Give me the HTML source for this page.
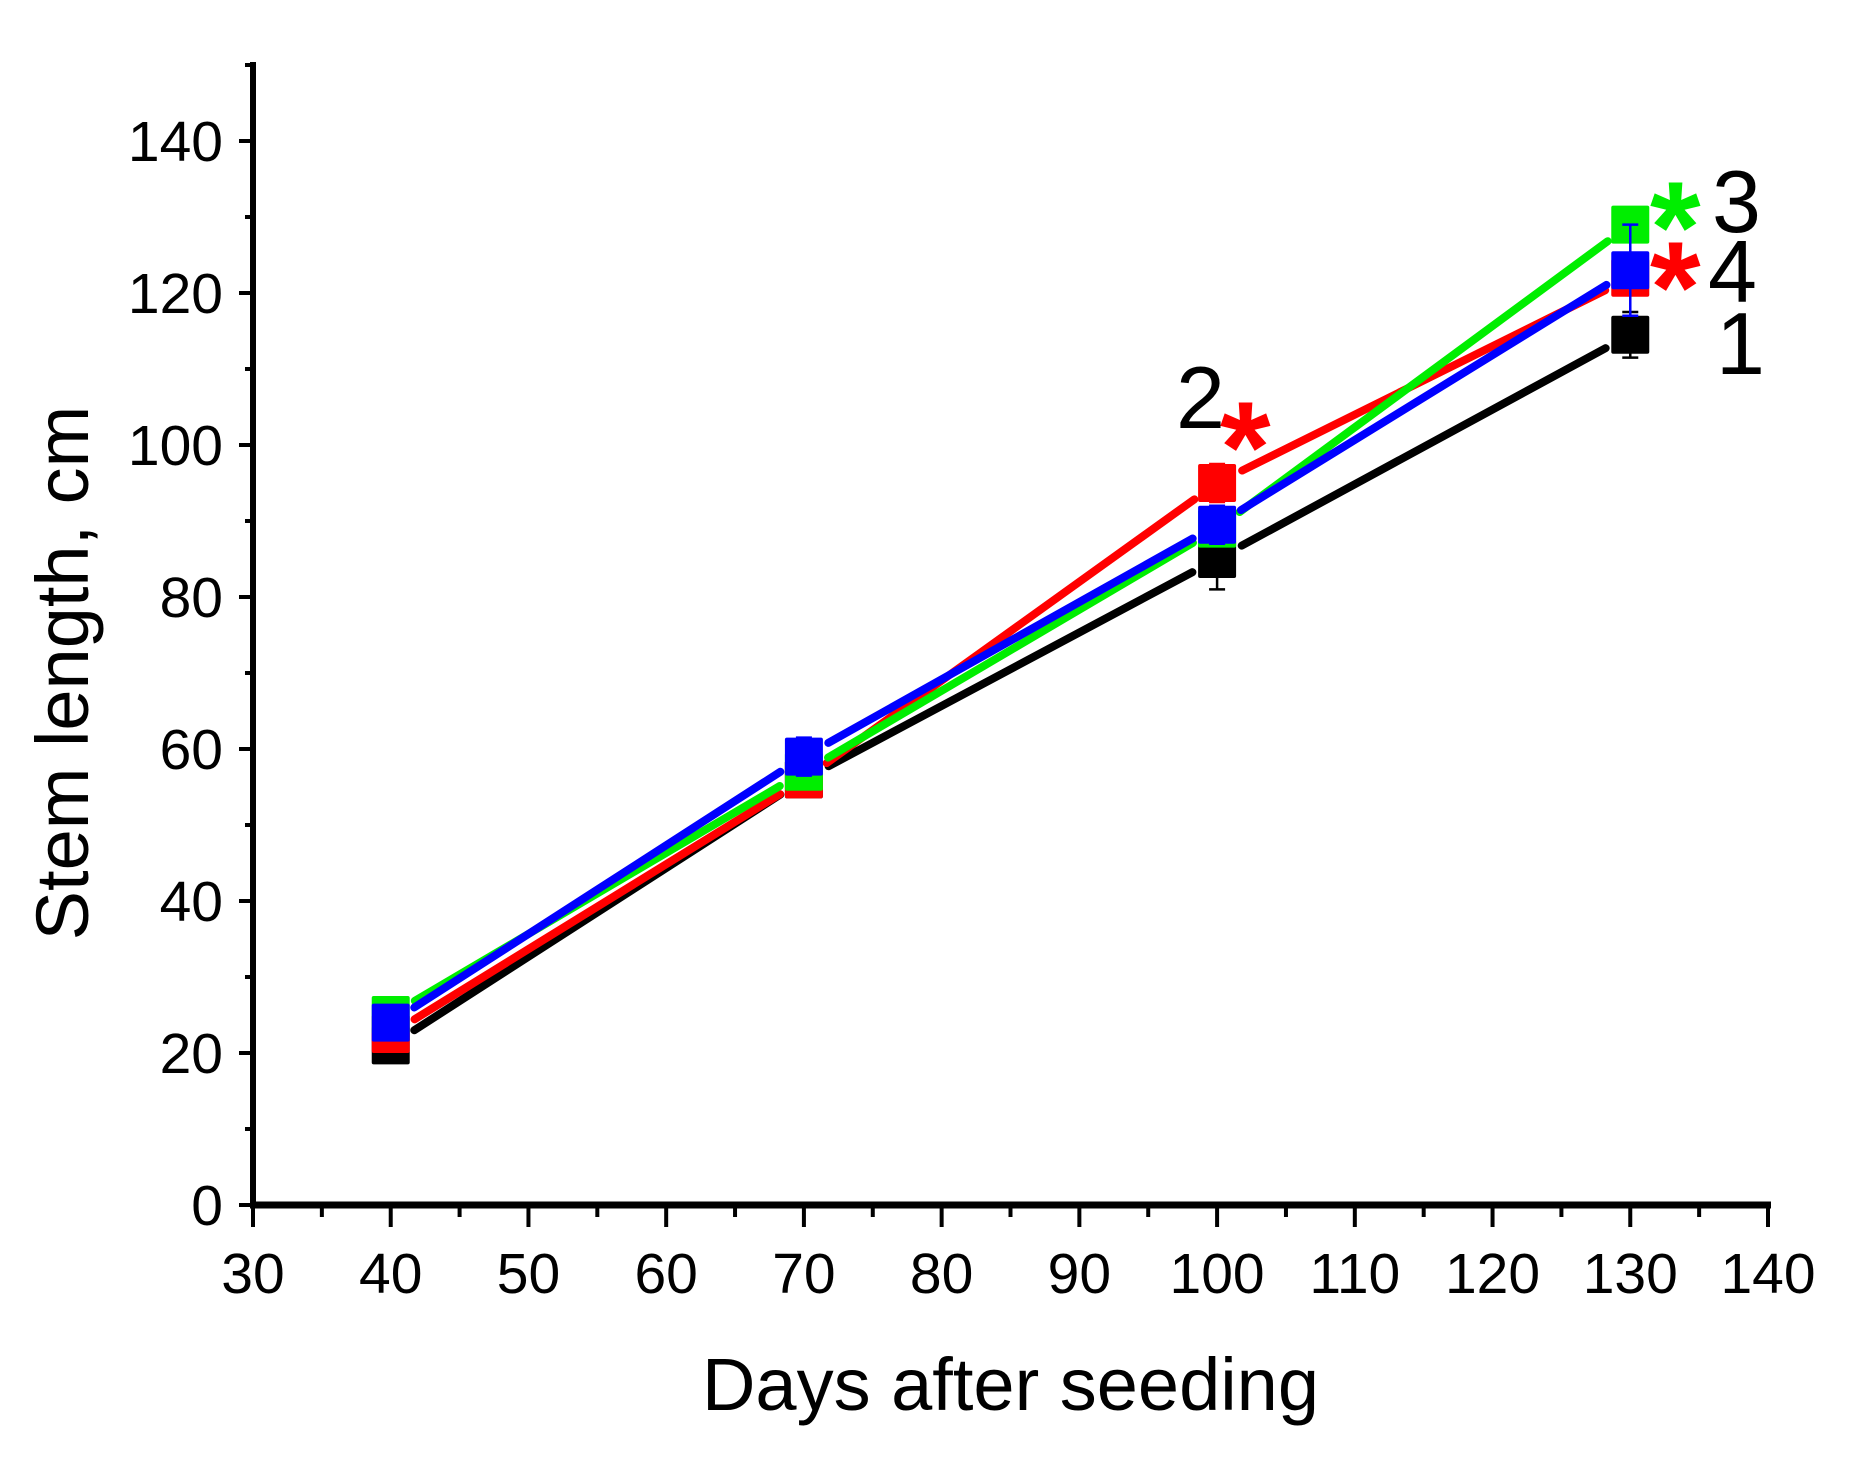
<!DOCTYPE html>
<html><head><meta charset="utf-8"><style>
html,body{margin:0;padding:0;background:#fff;}
svg{display:block;font-family:"Liberation Sans",Arial,sans-serif;}
</style></head><body>
<svg id="chart" width="1866" height="1466" viewBox="0 0 1866 1466" xmlns="http://www.w3.org/2000/svg">
<rect width="1866" height="1466" fill="#fff"/>
<g id="axes"></g>
<g id="series"></g>
<g id="labels"></g>
</svg>
<script>
const days = [40, 70, 100, 130];
const seriesNames = ['1', '2', '3', '4'];
const seriesColors = ['#000000', '#ff0000', '#00ee00', '#0000ff'];
const s1 = [21, 56, 85, 114.5];
const s2 = [22.5, 56, 95, 122];
const s3 = [25, 57, 89, 129];
const s4 = [24, 59, 89.5, 123];
const e1 = [1, 2, 4, 3];
const e2 = [1.5, 1.5, 2.5, 2];
const e3 = [1, 1.5, 2, 2];
const e4 = [1.5, 2.5, 2.5, 6];
const xTicks = [30, 40, 50, 60, 70, 80, 90, 100, 110, 120, 130, 140];
const yTicks = [0, 20, 40, 60, 80, 100, 120, 140];

const NS = 'http://www.w3.org/2000/svg';
const X0 = 253, X1 = 1768, Y0 = 1205, Y1 = 141;
const xs = v => X0 + (v - 30) / 110 * (X1 - X0);
const ys = v => Y0 - v / 140 * (Y0 - Y1);
function mk(tag, attrs, parent) {
  const el = document.createElementNS(NS, tag);
  for (const k in attrs) el.setAttribute(k, attrs[k]);
  parent.appendChild(el);
  return el;
}
const axes = document.getElementById('axes');
const seriesG = document.getElementById('series');
const labels = document.getElementById('labels');

let a = mk('line', {x1: X0, y1: 62, x2: X0, y2: Y0 + 3, stroke: '#000', 'stroke-width': 6}, axes);


a = mk('line', {x1: X0 - 3, y1: Y0, x2: X1 + 3, y2: Y0, stroke: '#000', 'stroke-width': 7}, axes);



xTicks.forEach((t, i) => {
  const x = xs(t);
  const tk = mk('line', {x1: x, y1: Y0, x2: x, y2: Y0 + 22, stroke: '#000', 'stroke-width': 4}, axes);
  
  
  if (i < xTicks.length - 1) {
    const mx = xs(t + 5);
    const mt = mk('line', {x1: mx, y1: Y0, x2: mx, y2: Y0 + 12, stroke: '#000', 'stroke-width': 4}, axes);
    
    
  }
  const tl = mk('text', {x: x, y: Y0 + 88, 'font-size': 57, 'text-anchor': 'middle'}, axes);
  tl.textContent = t;
  
  
});
yTicks.forEach((t, i) => {
  const y = ys(t);
  const tk = mk('line', {x1: X0 - 14, y1: y, x2: X0, y2: y, stroke: '#000', 'stroke-width': 4}, axes);
  
  
  const my = ys(t + 10);
  const mt = mk('line', {x1: X0 - 8, y1: my, x2: X0, y2: my, stroke: '#000', 'stroke-width': 4}, axes);
  
  
  const tl = mk('text', {x: X0 - 30, y: y + 20, 'font-size': 57, 'text-anchor': 'end'}, axes);
  tl.textContent = t;
  
  
});
let t = mk('text', {x: xs(85), y: 1410, 'font-size': 74, 'text-anchor': 'middle'}, axes);
t.textContent = 'Days after seeding';


t = mk('text', {x: 0, y: 0, 'font-size': 74, 'text-anchor': 'middle', transform: 'translate(88,' + ys(70) + ') rotate(-90)'}, axes);
t.textContent = 'Stem length, cm';



const allSeries = [s1, s2, s3, s4];
const allErr = [e1, e2, e3, e4];
const gap = 28;
allSeries.forEach((vals, si) => {
  const col = seriesColors[si];
  const g = mk('g', {}, seriesG);
  
  
  for (let i = 0; i < vals.length - 1; i++) {
    const xa = xs(days[i]), ya = ys(vals[i]), xb = xs(days[i + 1]), yb = ys(vals[i + 1]);
    const L = Math.hypot(xb - xa, yb - ya), ux = (xb - xa) / L, uy = (yb - ya) / L;
    const ln = mk('line', {x1: xa + ux * gap, y1: ya + uy * gap, x2: xb - ux * gap, y2: yb - uy * gap, stroke: col, 'stroke-width': 8, 'stroke-linecap': 'round'}, g);
    
    
  }
  vals.forEach((v, i) => {
    const x = xs(days[i]), y = ys(v), e = allErr[si][i];
    const m = mk('rect', {x: x - 19, y: y - 19, width: 38, height: 38, fill: col, rx: 2}, g);
    
    
    const eb = mk('path', {d: `M${x},${ys(v + e)}V${ys(v - e)}M${x - 8},${ys(v + e)}H${x + 8}M${x - 8},${ys(v - e)}H${x + 8}`, stroke: col, 'stroke-width': 2.5, fill: 'none'}, g);
    
    
  });
});

function lab(txt, x, y, size, col, name, bold) {
  const el = mk('text', {x: x, y: y, 'font-size': size, fill: col, 'font-weight': bold ? 'bold' : 'normal'}, labels);
  el.textContent = txt;
  
  
}
lab('2', 1176, 428, 88, '#000', 'label-2');
lab('*', 1220, 492, 130, '#ff0000', 'significance-2', true);
lab('3', 1712, 232, 88, '#000', 'label-3');
lab('*', 1650, 272, 130, '#00ee00', 'significance-3', true);
lab('4', 1708, 302, 88, '#000', 'label-4');
lab('*', 1650, 332, 130, '#ff0000', 'significance-4', true);
lab('1', 1716, 374, 88, '#000', 'label-1');
</script>
</body></html>
